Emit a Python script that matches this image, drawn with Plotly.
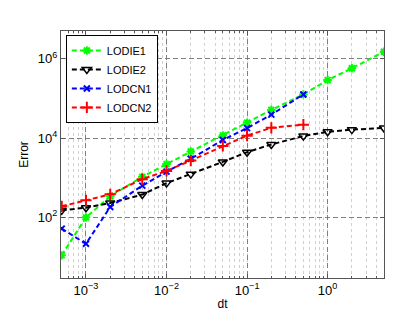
import plotly.graph_objects as go

dt = [5e-4, 1e-3, 2e-3, 5e-3, 1e-2, 2e-2, 5e-2, 0.1, 0.2, 0.5, 1, 2, 5]
dt_cn = [5e-4, 1e-3, 2e-3, 5e-3, 1e-2, 2e-2, 5e-2, 0.1, 0.2, 0.5]

lodie1 = [11, 100, 340, 1050, 2200, 4600, 11700, 24500, 51000, 126000, 290000, 575000, 1.5e6]
lodie2 = [150, 175, 230, 375, 730, 1230, 2500, 4400, 6900, 11200, 14400, 16300, 18000]
lodcn1 = [52, 21.5, 183, 630, 1420, 3000, 8900, 17800, 39000, 126000]
lodcn2 = [190, 268, 380, 920, 1480, 2700, 6300, 11500, 18100, 21800]

xtick_vals = [1e-3, 1e-2, 1e-1, 1]
xtick_text = ["10<sup>−3</sup>", "10<sup>−2</sup>", "10<sup>−1</sup>", "10<sup>0</sup>"]
ytick_vals = [1e2, 1e4, 1e6]
ytick_text = ["10<sup>2</sup>", "10<sup>4</sup>", "10<sup>6</sup>"]

FONT = "Liberation Sans, Arial"
DASH = "5px,3px"

fig = go.Figure()
fig.add_trace(go.Scatter(x=dt, y=lodie1, name="LODIE1", mode="lines+markers",
                         line=dict(color="#00ff00", dash=DASH, width=2),
                         marker=dict(symbol="asterisk-open", size=7, line=dict(color="#00ff00", width=2))))
fig.add_trace(go.Scatter(x=dt, y=lodie2, name="LODIE2", mode="lines+markers",
                         line=dict(color="black", dash=DASH, width=2),
                         marker=dict(symbol="triangle-down-open", size=8, color="black", line=dict(color="black", width=1.5))))
fig.add_trace(go.Scatter(x=dt_cn, y=lodcn1, name="LODCN1", mode="lines+markers",
                         line=dict(color="#0000ff", dash=DASH, width=2),
                         marker=dict(symbol="x-thin-open", size=6, line=dict(color="#0000ff", width=2))))
fig.add_trace(go.Scatter(x=dt_cn, y=lodcn2, name="LODCN2", mode="lines+markers",
                         line=dict(color="#ff0000", dash=DASH, width=2),
                         marker=dict(symbol="cross-thin-open", size=8, line=dict(color="#ff0000", width=2))))

axis_common = dict(
    showline=True, linecolor="#555555", linewidth=1.2, mirror="ticks",
    ticks="inside", ticklen=4, tickcolor="#555555",
    showgrid=True, gridcolor="#7f7f7f", griddash="5px,3px", gridwidth=1,
    zeroline=False,
    tickfont=dict(family=FONT, size=13, color="black"),
)

fig.update_xaxes(type="log", range=[-3.31, 0.70],
                 tickvals=xtick_vals, ticktext=xtick_text,
                 minor=dict(dtick="D1", showgrid=True, griddash="dot", gridcolor="#d0d0d0",
                            ticks="inside", ticklen=2, tickcolor="#555555"),
                 title=dict(text="dt", font=dict(family=FONT, size=12, color="black"), standoff=2),
                 **axis_common)
fig.update_yaxes(type="log", range=[0.47, 6.70],
                 tickvals=ytick_vals, ticktext=ytick_text,
                 title=dict(text="Error", font=dict(family=FONT, size=12, color="black"), standoff=6),
                 **axis_common)

fig.update_layout(
    width=415, height=312,
    margin=dict(l=53, r=39, t=23, b=36),
    plot_bgcolor="white", paper_bgcolor="white",
    legend=dict(x=0.015, y=0.984, xanchor="left", yanchor="top",
                bgcolor="white", bordercolor="black", borderwidth=1,
                font=dict(family=FONT, size=11, color="black"),
                tracegroupgap=0, itemwidth=30),
    font=dict(family=FONT),
)

fig.write_html("out.html")
